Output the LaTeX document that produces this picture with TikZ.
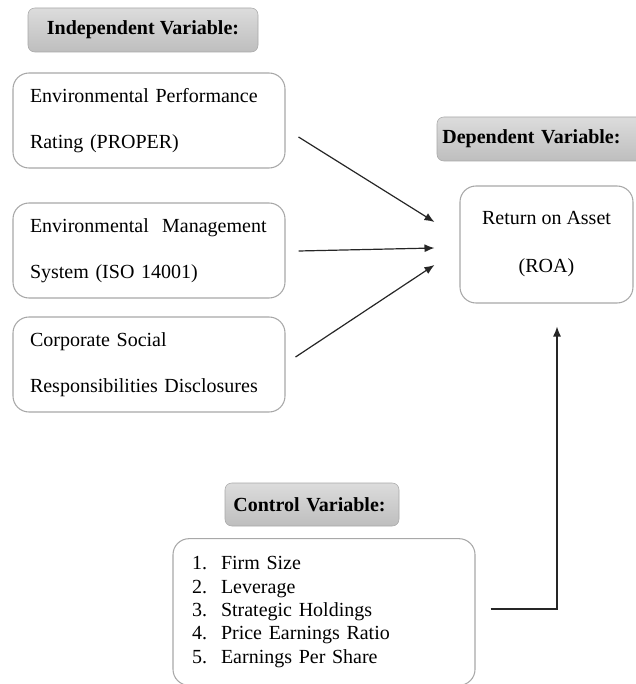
\documentclass[tikz,border=0pt]{standalone}
\usepackage{fontspec}
\setmainfont{Liberation Serif}
\usepackage{xcolor}
\usepackage{tikz}
\usetikzlibrary{arrows.meta}

\definecolor{boxline}{HTML}{A8A8A8}
\definecolor{labtop}{HTML}{DCDCDC}
\definecolor{labbot}{HTML}{BEBEBE}

\tikzset{
    varlabel/.style={draw=boxline, rounded corners=5pt, top color=labtop, bottom color=labbot,
        font=\fontsize{15}{18}\selectfont\bfseries, inner sep=0pt},
    varbox/.style={draw=boxline, rounded corners=12pt, thick, inner sep=0pt,
        font=\fontsize{15}{34.5}\selectfont},
    link/.style={-{Latex[length=7.5pt, width=6pt]}, line width=0.9pt, black!85}
}

\begin{document}
\begin{tikzpicture}[x=0.75pt, y=-0.75pt]
        \useasboundingbox (0,0) rectangle (635,684);
        % independent side
        \node[varlabel, minimum width=172.5pt, minimum height=33pt] (indep) at (143,30) {Independent Variable:};
        \node[varbox, minimum width=204pt, minimum height=71.25pt, text width=178.5pt, align=left] (epr) at (149,120.5)
            {Environmental Performance\\Rating (PROPER)};
        \node[varbox, minimum width=204pt, minimum height=71.25pt, text width=178.5pt, align=left] (ems) at (149,250.5)
            {Environmental\ \ Management\\System (ISO 14001)};
        \node[varbox, minimum width=204pt, minimum height=71.25pt, text width=178.5pt, align=left] (csr) at (149,364.5)
            {Corporate Social\\Responsibilities Disclosures};
        % dependent side
        \node[varlabel, minimum width=156pt, minimum height=33pt, text width=148pt, align=left] (dep) at (541,139) {Dependent Variable:};
        \node[varbox, minimum width=129.75pt, minimum height=87.75pt, align=center, font=\fontsize{15}{36}\selectfont] (roa) at (546.5,244.5)
            {Return on Asset\\(ROA)};
        % control side
        \node[varlabel, minimum width=130.5pt, minimum height=32.25pt, text width=118pt, align=left] (ctrl) at (312,504.5) {Control Variable:};
        \node[varbox, minimum width=226.5pt, minimum height=110pt, text width=198pt, align=left, font=\fontsize{15}{17.6}\selectfont] (ctrlist) at (324,612)
            {\makebox[21.75pt][l]{1.}Firm Size\\
             \makebox[21.75pt][l]{2.}Leverage\\
             \makebox[21.75pt][l]{3.}Strategic Holdings\\
             \makebox[21.75pt][l]{4.}Price Earnings Ratio\\
             \makebox[21.75pt][l]{5.}Earnings Per Share};
        % arrows
        \draw[link] ([shift={(13,16.5)}]epr.east) -- ([shift={(-25,-22.5)}]roa.west);
        \draw[link] ([shift={(13,0.5)}]ems.east) -- ([shift={(-25,3.5)}]roa.west);
        \draw[link] ([shift={(10,-7.5)}]csr.east) -- ([shift={(-25,20.5)}]roa.west);
        \draw[link] ([shift={(15,-3)}]ctrlist.east) -| ([shift={(10.5,23)}]roa.south);
    \end{tikzpicture}
\end{document}
